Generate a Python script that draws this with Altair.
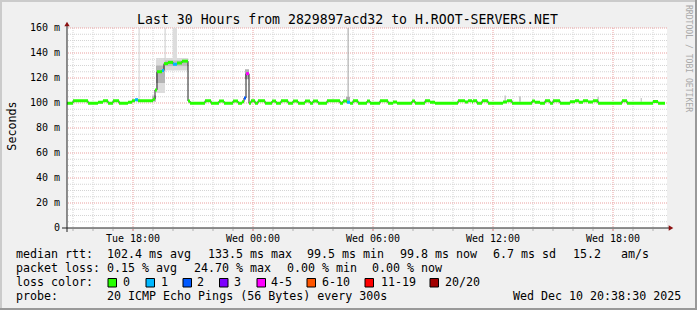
import altair as alt
import pandas as pd

# ---------------- data (hours since Tue 14:42, ms) ----------------
seg_start = [
    0.0, 0.3, 1.05, 1.55, 1.8, 2.05, 2.3, 2.6, 3.05, 3.25,
    3.4, 3.55, 4.3, 4.4, 4.5, 4.75, 4.85, 5.05, 5.3, 5.5,
    5.75, 6.05, 6.15, 6.9, 7.2, 7.6, 7.85, 8.3, 8.55, 8.75,
    8.85, 8.95, 9.1, 9.2, 9.4, 9.55, 9.9, 10.25, 10.45, 10.7,
    11.05, 11.3, 11.55, 11.9, 12.15, 12.3, 12.55, 13.0, 13.65, 13.8,
    14.0, 14.15, 14.3, 14.55, 15.0, 15.15, 15.65, 16.05, 16.3, 16.5,
    17.25, 17.4, 17.9, 18.15, 18.4, 19.55, 19.9, 20.05, 20.25, 20.3,
    20.5, 20.75, 21.05, 21.8, 22.0, 22.25, 23.25, 23.4, 23.65, 23.9,
    24.15, 24.3, 24.65, 25.15, 25.4, 25.6, 25.8, 26.05, 26.3, 26.55,
    27.75, 28.0, 29.3, 29.55]
seg_end_last = 29.9
seg_median = [
    99.8, 101.8, 99.8, 100.6, 101.8, 99.8, 101.8, 99.8, 100.6, 101.8,
    102.6, 101.8, 103.0, 110.5, 125.0, 126.0, 131.5, 132.5, 131.0, 132.0,
    133.5, 101.6, 99.8, 101.8, 99.8, 101.6, 99.8, 101.6, 99.8, 101.0,
    104.0, 123.5, 99.8, 101.8, 99.8, 101.8, 99.8, 101.6, 99.8, 101.8,
    99.8, 101.6, 99.8, 101.6, 99.8, 101.6, 99.8, 101.8, 99.8, 101.6,
    100.6, 99.8, 101.8, 99.8, 101.6, 99.8, 101.8, 99.8, 100.8, 99.8,
    101.6, 99.8, 101.8, 100.6, 99.8, 101.8, 100.8, 101.8, 100.8, 101.8,
    99.8, 101.8, 99.8, 100.8, 101.8, 99.8, 101.6, 100.6, 99.8, 101.8,
    99.8, 101.8, 99.8, 101.0, 101.8, 100.6, 101.8, 100.8, 101.8, 99.8,
    101.8, 99.8, 101.2, 99.8]
seg_loss = [
    0, 0, 0, 0, 0, 0, 0, 0, 0, 0,
    1, 0, 0, 0, 0, 1, 0, 0, 1, 0,
    0, 0, 0, 0, 0, 0, 0, 0, 0, 0,
    2, 4, 0, 0, 0, 0, 0, 0, 0, 0,
    0, 0, 0, 0, 0, 0, 0, 0, 0, 0,
    1, 0, 0, 0, 0, 0, 0, 0, 0, 0,
    0, 0, 0, 0, 0, 0, 0, 0, 0, 0,
    0, 0, 0, 0, 0, 0, 0, 0, 0, 0,
    0, 0, 0, 0, 0, 0, 0, 0, 0, 0,
    0, 0, 0, 0]

smoke_start = [3.45, 3.58, 4.25, 4.45, 4.45, 4.88, 4.9, 5.28, 4.9, 8.9, 13.95, 14.03, 21.87, 22.6, 26.53, 28.68]
smoke_end = [3.55, 3.63, 4.45, 4.9, 4.9, 4.93, 6.05, 5.5, 6.05, 9.1, 14.15, 14.08, 21.95, 22.7, 26.58, 28.75]
smoke_low = [101, 102, 101, 108, 116, 125, 126, 128, 129.5, 119, 100, 100, 101, 101, 101, 101]
smoke_high = [104, 165, 106, 136, 130, 165, 136, 165, 134, 127, 105, 165, 106, 105.5, 105, 104]
smoke_shade = ["#cccccc", "#d0d0d0", "#bbbbbb", "#dcdcdc", "#b4b4b4", "#cccccc", "#dadada",
               "#dddddd", "#bdbdbd", "#b0b0b0", "#b0b0b0", "#a0a0a0", "#cccccc", "#cccccc",
               "#a8a8a8", "#cccccc"]

loss_labels = ["0", "1", "2", "3", "4-5", "6-10", "11-19", "20/20"]
loss_colors = ["#26ff00", "#00b8ff", "#0059ff", "#7e00ff", "#ff00ff", "#ff5500", "#ff0000", "#a10000"]

x_tick_hours = [3.3, 9.3, 15.3, 21.3, 27.3]
x_tick_labels = ["Tue 18:00", "Wed 00:00", "Wed 06:00", "Wed 12:00", "Wed 18:00"]
y_tick_values = [0, 20, 40, 60, 80, 100, 120, 140, 160]

title_text = "Last 30 Hours from 2829897acd32 to H.ROOT-SERVERS.NET"
row1 = ["median rtt:", "102.4 ms avg", "133.5 ms max", "99.5 ms min", "99.8 ms now", "6.7 ms sd", "15.2", "am/s"]
row2 = ["packet loss:", "0.15 % avg", "24.70 % max", "0.00 % min", "0.00 % now"]
row3_head = "loss color:"
row4 = ["probe:", "20 ICMP Echo Pings (56 Bytes) every 300s", "Wed Dec 10 20:38:30 2025"]

# ---------------- layout ----------------
W, H = 600, 200
OX, OY = 67, 28  # plot origin in page pixels
MONO = "DejaVu Sans Mono"
xs = alt.Scale(domain=[0, 30], nice=False, zero=False)
ys = alt.Scale(domain=[0, 160], nice=False)

seg_end = seg_start[1:] + [seg_end_last]
segs = pd.DataFrame({"h0": seg_start, "h1": seg_end, "ms": seg_median,
                     "color": [loss_colors[i] for i in seg_loss]})
line_df = pd.DataFrame({"h": seg_start + [seg_end_last], "ms": seg_median + [seg_median[-1]]})
smoke = pd.DataFrame({"h0": smoke_start, "h1": smoke_end, "lo": smoke_low,
                      "hi": smoke_high, "c": smoke_shade})

minor_v = pd.DataFrame({"h": [0.3 + k for k in range(30) if (k - 3) % 6 != 0]})
major_v = pd.DataFrame({"h": x_tick_hours})
minor_h = pd.DataFrame({"ms": [v for v in range(5, 160, 5) if v % 20 != 0]})
major_h = pd.DataFrame({"ms": [v for v in y_tick_values if v > 0]})

MINOR_C = "#d4d4d4"
MAJOR_C = "#eaa0a0"

g1 = alt.Chart(minor_v).mark_rule(color=MINOR_C, strokeDash=[1, 1], strokeWidth=1).encode(
    x=alt.X("h:Q", scale=xs, axis=None))
g2 = alt.Chart(minor_h).mark_rule(color=MINOR_C, strokeDash=[1, 1], strokeWidth=1).encode(
    y=alt.Y("ms:Q", scale=ys, axis=None))
g3 = alt.Chart(major_v).mark_rule(color=MAJOR_C, strokeDash=[1, 1], strokeWidth=1).encode(
    x=alt.X("h:Q", scale=xs, axis=None))
g4 = alt.Chart(major_h).mark_rule(color=MAJOR_C, strokeDash=[1, 1], strokeWidth=1).encode(
    y=alt.Y("ms:Q", scale=ys, axis=None))

smoke_l = alt.Chart(smoke).mark_rect(clip=True).encode(
    x=alt.X("h0:Q", scale=xs, axis=None), x2="h1:Q",
    y=alt.Y("lo:Q", scale=ys, axis=None), y2="hi:Q",
    color=alt.Color("c:N", scale=None))

black_line = alt.Chart(line_df).mark_line(interpolate="step-after", color="#202020", strokeWidth=1).encode(
    x=alt.X("h:Q", scale=xs, axis=None), y=alt.Y("ms:Q", scale=ys, axis=None))

colored = alt.Chart(segs).mark_rule(strokeWidth=3).encode(
    x=alt.X("h0:Q", scale=xs, axis=None), x2="h1:Q",
    y=alt.Y("ms:Q", scale=ys, axis=None),
    color=alt.Color("color:N", scale=None))

# axes
ax_df = pd.DataFrame({"x": [-5], "x2": [W + 3], "y": [H], "y2": [H]})
x_axis = alt.Chart(ax_df).mark_rule(color="#202020", strokeWidth=1).encode(
    x=alt.X("x:Q", scale=None), x2="x2:Q", y=alt.Y("y:Q", scale=None))
yax_df = pd.DataFrame({"x": [0], "y": [H + 4], "y2": [-3]})
y_axis = alt.Chart(yax_df).mark_rule(color="#202020", strokeWidth=1).encode(
    x=alt.X("x:Q", scale=None), y=alt.Y("y:Q", scale=None), y2="y2:Q")
arrows_df = pd.DataFrame({"x": [W + 4, 0], "y": [H, -4], "s": ["triangle-right", "triangle-up"]})
arrows = alt.Chart(arrows_df).mark_point(filled=True, size=28, color="#8b1010", opacity=1).encode(
    x=alt.X("x:Q", scale=None), y=alt.Y("y:Q", scale=None),
    shape=alt.Shape("s:N", scale=None))

xt_minor = alt.Chart(minor_v).mark_rule(color="#b0b0b0").encode(
    x=alt.X("h:Q", scale=xs, axis=None), y=alt.value(H + 1), y2=alt.value(H + 3))
xt_major = alt.Chart(major_v).mark_rule(color="#d07070").encode(
    x=alt.X("h:Q", scale=xs, axis=None), y=alt.value(H + 1), y2=alt.value(H + 3))

xlab = alt.Chart(pd.DataFrame({"h": x_tick_hours, "t": x_tick_labels})).mark_text(
    font=MONO, fontSize=10, align="center", baseline="alphabetic", color="black").encode(
    x=alt.X("h:Q", scale=xs, axis=None), y=alt.value(213.5), text="t:N")
ylab = alt.Chart(pd.DataFrame({"ms": y_tick_values,
                               "t": [("0" if v == 0 else f"{v} m") for v in y_tick_values]})).mark_text(
    font=MONO, fontSize=10, align="right", baseline="middle", color="black").encode(
    y=alt.Y("ms:Q", scale=ys, axis=None), x=alt.value(-7), text="t:N")


# text pieces positioned in page pixels
def txt(items, size, color="black", align="left", baseline="alphabetic", angle=0):
    df = pd.DataFrame([{"t": t, "x": x - OX, "y": y - OY} for t, x, y in items])
    kw = dict(font=MONO, fontSize=size, align=align, baseline=baseline, color=color)
    if angle:
        kw["angle"] = angle
    return alt.Chart(df).mark_text(**kw).encode(
        x=alt.X("x:Q", scale=None), y=alt.Y("y:Q", scale=None), text="t:N")


title = txt([(title_text, 347.5, 23.5)], 13.2, align="center")
ytitle = txt([("Seconds", 11.5, 126)], 11.7, align="center", baseline="middle", angle=270)
vendor = txt([("RRDTOOL / TOBI OETIKER", 688, 58.5)], 8.1, color="#a8a8a8",
             align="center", baseline="middle", angle=90)

FS = 11.65
r1x = [16, 107, 208, 307, 400, 493, 573, 621]
r2x = [16, 107, 194, 287, 372]
leg1 = txt([(t, x, 258.3) for t, x in zip(row1, r1x)], FS)
leg2 = txt([(t, x, 271.8) for t, x in zip(row2, r2x)], FS)
box_x = [108, 146, 183, 219.5, 257, 307, 365, 430]
lab_x = [123, 161, 197, 234, 271, 322, 381, 445]
leg3 = txt([(row3_head, 16, 286)] + [(t, x, 286) for t, x in zip(loss_labels, lab_x)], FS)
boxes = alt.Chart(pd.DataFrame({"x": [b - OX for b in box_x], "x2": [b - OX + 8.5 for b in box_x],
                                "y": [278.5 - OY] * 8, "y2": [287 - OY] * 8, "c": loss_colors})).mark_rect(
    stroke="black", strokeWidth=1).encode(
    x=alt.X("x:Q", scale=None), x2="x2:Q", y=alt.Y("y:Q", scale=None), y2="y2:Q",
    color=alt.Color("c:N", scale=None))
leg4 = txt([(row4[0], 16, 299.5), (row4[1], 107, 299.5), (row4[2], 513, 299.5)], FS)

# frame (shade)
frame_df = pd.DataFrame({
    "x": [-OX, -OX + 1, -OX, 697 - OX - 1],
    "x2": [697 - OX, -OX + 1, 697 - OX, 697 - OX - 1],
    "y": [-OY + 1, -OY, 310 - OY - 1, -OY],
    "y2": [-OY + 1, 310 - OY, 310 - OY - 1, 310 - OY],
    "c": ["#cbcbcb", "#cbcbcb", "#999999", "#999999"]})
frame = alt.Chart(frame_df).mark_rule(strokeWidth=2).encode(
    x=alt.X("x:Q", scale=None), x2="x2:Q", y=alt.Y("y:Q", scale=None), y2="y2:Q",
    color=alt.Color("c:N", scale=None))

chart = alt.layer(
    g1, g2, g3, g4, smoke_l, black_line, colored,
    xt_minor, xt_major, x_axis, y_axis, arrows, xlab, ylab,
    title, ytitle, vendor, leg1, leg2, leg3, boxes, leg4, frame
).properties(
    width=W, height=H,
    autosize=alt.AutoSizeParams(type="none"),
    padding={"left": OX, "top": OY, "right": 697 - OX - W, "bottom": 310 - OY - H},
    background="#f0f0f0",
).configure_view(stroke=None, fill="white")

chart.save("out.html", embed_options={"renderer": "svg", "actions": False})
